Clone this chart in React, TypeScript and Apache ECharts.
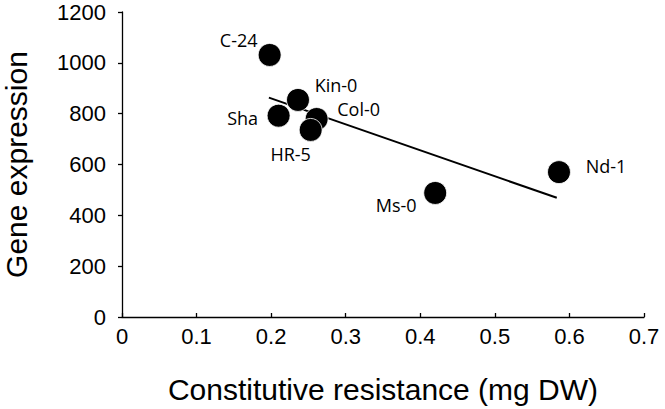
import React, { useEffect, useRef } from "react";
import * as echarts from "echarts";

const accessions = ["C-24", "Kin-0", "Sha", "Col-0", "HR-5", "Ms-0", "Nd-1"];
const resistance = [0.198, 0.236, 0.21, 0.261, 0.253, 0.42, 0.586];
const expression = [1031, 854, 792, 779, 736, 488, 570];
const labelOffsets: [number, number][] = [
  [-31, -15],
  [38, -15],
  [-36, 2],
  [42, -10],
  [-20, 24],
  [-39, 12],
  [47, -6],
];
const trendX = [0.197, 0.583];
const trendY = [863, 469];

export default function App() {
  const ref = useRef<HTMLDivElement>(null);
  useEffect(() => {
    if (!ref.current) return;
    const chart = echarts.init(ref.current, undefined, { renderer: "svg" });
    const axisFont = "'Liberation Sans', Arial, sans-serif";
    chart.setOption({
      animation: false,
      backgroundColor: "#ffffff",
      grid: { left: 122, right: 21, top: 12, bottom: 92, containLabel: false, outerBoundsMode: "none" },
      xAxis: {
        type: "value",
        min: 0,
        max: 0.7,
        interval: 0.1,
        name: "Constitutive resistance (mg DW)",
        nameLocation: "middle",
        nameGap: 57,
        nameTextStyle: { fontFamily: axisFont, fontSize: 30, color: "#000" },
        axisLine: { show: true, onZero: false, lineStyle: { color: "#000", width: 1.3 } },
        axisTick: { show: true, inside: true, length: 4, lineStyle: { color: "#000", width: 1.3 } },
        axisLabel: {
          fontFamily: axisFont,
          fontSize: 22,
          color: "#000",
          margin: 8,
          formatter: (v: number) => (v === 0 ? "0" : String(Math.round(v * 10) / 10)),
        },
        splitLine: { show: false },
      },
      yAxis: {
        type: "value",
        min: 0,
        max: 1200,
        interval: 200,
        name: "Gene expression",
        nameLocation: "middle",
        nameGap: 91,
        nameTextStyle: { fontFamily: axisFont, fontSize: 30, color: "#000" },
        axisLine: { show: true, lineStyle: { color: "#000", width: 1.3 } },
        axisTick: { show: true, inside: false, length: 4, lineStyle: { color: "#000", width: 1.3 } },
        axisLabel: {
          fontFamily: axisFont,
          fontSize: 22,
          color: "#000",
          margin: 16,
          formatter: (v: number) => String(v),
        },
        splitLine: { show: false },
      },
      series: [
        {
          type: "line",
          data: trendX.map((x, i) => [x, trendY[i]]),
          symbol: "none",
          lineStyle: { color: "#000", width: 2 },
          z: 1,
        },
        {
          type: "scatter",
          symbol: "circle",
          symbolSize: 23,
          itemStyle: { color: "#000", opacity: 1, borderColor: "#fff", borderWidth: 0.8 },
          z: 2,
          data: accessions.map((name, i) => ({
            name,
            value: [resistance[i], expression[i]],
            label: {
              show: true,
              position: "inside",
              offset: labelOffsets[i],
              formatter: name,
              fontFamily: "'Open Sans', 'Noto Sans', sans-serif",
              fontSize: 18,
              color: "#000",
            },
          })),
        },
      ],
    });
    return () => chart.dispose();
  }, []);
  return <div ref={ref} style={{ width: 665, height: 409, position: "absolute", left: 0, top: 0 }} />;
}
